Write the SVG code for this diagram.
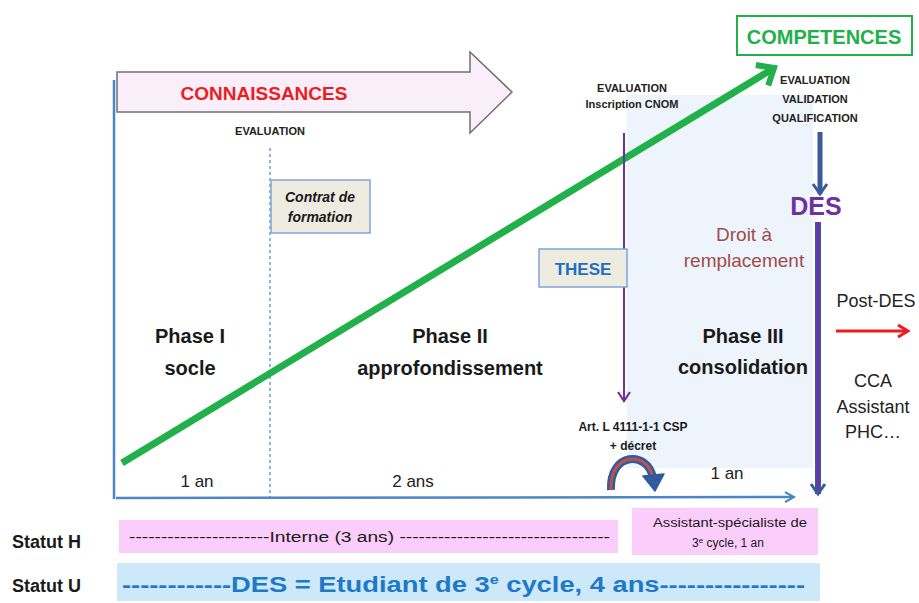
<svg xmlns="http://www.w3.org/2000/svg" width="919" height="603" viewBox="0 0 919 603">
<defs>
<style>
text{font-family:"Liberation Sans",Arial,sans-serif;fill:#1a1a1a}
.b{font-weight:bold}
.sm{font-size:11px;font-weight:bold;fill:#222}
.ph{font-size:20px;font-weight:bold;text-anchor:middle}
.yr{font-size:17px;text-anchor:middle;fill:#222}
.st{font-size:18px;font-weight:bold}
.rt{font-size:18px;text-anchor:middle;fill:#222}
.box{fill:#eeebe0;stroke:#7ea6d8;stroke-width:1.5}
</style>
<marker id="ab" markerWidth="12" markerHeight="12" refX="9" refY="6" orient="auto" markerUnits="userSpaceOnUse"><path d="M1,1 L10,6 L1,11" fill="none" stroke="#3f7fc8" stroke-width="2"/></marker>
<marker id="ap" markerWidth="14" markerHeight="14" refX="7" refY="12" orient="0" markerUnits="userSpaceOnUse"><path d="M1,3 L7,12 L13,3" fill="none" stroke="#7030a0" stroke-width="2.2"/></marker>
<marker id="ag" markerWidth="30" markerHeight="30" refX="20" refY="15" orient="auto" markerUnits="userSpaceOnUse"><path d="M6,3 L20,15 L6,27" fill="none" stroke="#22b04b" stroke-width="6" stroke-linejoin="miter"/></marker>
<marker id="ad" markerWidth="20" markerHeight="20" refX="10" refY="16" orient="0" markerUnits="userSpaceOnUse"><path d="M3,6 L10,16 L17,6" fill="none" stroke="#3b5a9a" stroke-width="3"/></marker>
<marker id="ar" markerWidth="14" markerHeight="14" refX="12" refY="7" orient="auto" markerUnits="userSpaceOnUse"><path d="M2,1 L12,7 L2,13" fill="none" stroke="#ee1c1c" stroke-width="3"/></marker>
</defs>
<rect width="919" height="603" fill="#ffffff"/>

<g id="phase3-bg"><rect x="627" y="95" width="186" height="373" fill="#eef4fb"/></g>

<g id="connaissances">
<path d="M117,72 L470,72 L470,52 L512,92 L470,133 L470,112 L117,112 Z" fill="#fbeefb" stroke="#707070" stroke-width="1.5"/>
<text x="264" y="100" font-size="19" class="b" text-anchor="middle" style="fill:#ee1c1c">CONNAISSANCES</text>
</g>

<g id="connectors">
<line x1="114" y1="80" x2="114" y2="499" stroke="#4a86c8" stroke-width="2.5"/>
<line x1="116" y1="498" x2="793" y2="497" stroke="#4a86c8" stroke-width="2.5" marker-end="url(#ab)"/>
<line x1="270" y1="148" x2="270" y2="497" stroke="#4a86c8" stroke-width="1.2" stroke-dasharray="3,3"/>
<line x1="122" y1="463" x2="774" y2="68" stroke="#22b04b" stroke-width="7" marker-end="url(#ag)"/>
<line x1="624" y1="133" x2="624" y2="401" stroke="#7030a0" stroke-width="2" marker-end="url(#ap)"/>
<line x1="820" y1="132" x2="820" y2="194" stroke="#3b5a9a" stroke-width="5" marker-end="url(#ad)"/>
<line x1="818" y1="222" x2="818" y2="494" stroke="#3b5a9a" stroke-width="6" marker-end="url(#ad)"/>
<line x1="818" y1="222" x2="818" y2="490" stroke="#6a34a8" stroke-width="3"/>
<line x1="836" y1="331" x2="908" y2="331" stroke="#ee1c1c" stroke-width="3" marker-end="url(#ar)"/>
<path d="M611,490 C609,452 648,450 653,478" fill="none" stroke="#2f5c9c" stroke-width="8"/>
<path d="M611,490 C609,452 648,450 653,478" fill="none" stroke="#c0504d" stroke-width="3"/>
<path d="M643,476 L655,491 L664,474 Z" fill="#2f5c9c" stroke="#2f5c9c" stroke-width="1.5" stroke-linejoin="round"/>
</g>

<g id="eval1"><text x="270" y="135" class="sm" text-anchor="middle">EVALUATION</text></g>

<g id="contrat">
<rect x="271" y="180" width="99" height="53" class="box"/>
<text x="320" y="202" font-size="14" class="b" font-style="italic" text-anchor="middle">Contrat de</text>
<text x="320" y="222" font-size="14" class="b" font-style="italic" text-anchor="middle">formation</text>
</g>

<g id="competences">
<rect x="737" y="16" width="175" height="39" fill="#ffffff" stroke="#22b04b" stroke-width="2"/>
<text x="824" y="44" font-size="20" class="b" text-anchor="middle" style="fill:#22b04b">COMPETENCES</text>
</g>

<g id="eval2">
<text x="632" y="92" class="sm" text-anchor="middle">EVALUATION</text>
<text x="632" y="108" class="sm" text-anchor="middle">Inscription CNOM</text>
</g>

<g id="eval3">
<text x="815" y="84" class="sm" text-anchor="middle">EVALUATION</text>
<text x="815" y="103" class="sm" text-anchor="middle">VALIDATION</text>
<text x="815" y="122" class="sm" text-anchor="middle">QUALIFICATION</text>
</g>

<g id="des"><text x="816" y="215" font-size="25" class="b" text-anchor="middle" style="fill:#7030a0">DES</text></g>

<g id="these">
<rect x="539" y="249" width="88" height="38" class="box"/>
<text x="583" y="275" font-size="17" class="b" text-anchor="middle" style="fill:#1f6fc0">THESE</text>
</g>

<g id="droit">
<text x="744" y="241" font-size="19" text-anchor="middle" style="fill:#a04b4b">Droit à</text>
<text x="744" y="267" font-size="19" text-anchor="middle" style="fill:#a04b4b">remplacement</text>
</g>

<g id="phase1">
<text x="190" y="343" class="ph">Phase I</text>
<text x="190" y="375" class="ph">socle</text>
</g>
<g id="phase2">
<text x="450" y="343" class="ph">Phase II</text>
<text x="450" y="375" class="ph" font-size="21">approfondissement</text>
</g>
<g id="phase3">
<text x="743" y="343" class="ph">Phase III</text>
<text x="743" y="374" class="ph">consolidation</text>
</g>

<g id="postdes">
<text x="876" y="307" class="rt">Post-DES</text>
<text x="873" y="387" class="rt">CCA</text>
<text x="873" y="413" class="rt">Assistant</text>
<text x="873" y="438" class="rt">PHC…</text>
</g>

<g id="art">
<text x="633" y="431" font-size="12" class="b" text-anchor="middle">Art. L 4111-1-1 CSP</text>
<text x="633" y="450" font-size="12" class="b" text-anchor="middle">+ décret</text>
</g>

<g id="durations">
<text x="197" y="487" class="yr">1 an</text>
<text x="413" y="487" class="yr">2 ans</text>
<text x="727" y="479" class="yr">1 an</text>
</g>

<g id="statutH">
<text x="12" y="548" class="st">Statut H</text>
<rect x="119" y="520" width="499" height="33" fill="#fbcdfb"/>
<text x="129" y="542" font-size="14" textLength="481" lengthAdjust="spacingAndGlyphs">----------------------Interne (3 ans) ---------------------------------</text>
<rect x="632" y="508" width="186" height="47" fill="#fbcdfb"/>
<text x="730" y="527" font-size="12" text-anchor="middle" textLength="154" lengthAdjust="spacingAndGlyphs">Assistant-spécialiste de</text>
<text x="728" y="547" font-size="12" text-anchor="middle">3<tspan font-size="8" dy="-4">e</tspan><tspan dy="4"> cycle, 1  an</tspan></text>
</g>

<g id="statutU">
<text x="12" y="592" class="st">Statut U</text>
<rect x="117" y="563" width="703" height="38" fill="#cde9f9"/>
<text x="122" y="592" font-size="22" class="b" textLength="683" lengthAdjust="spacingAndGlyphs" style="fill:#1f78c8">------------DES = Etudiant de 3<tspan font-size="13" dy="-8">e</tspan><tspan dy="8"> cycle, 4 ans----------------</tspan></text>
</g>
</svg>
